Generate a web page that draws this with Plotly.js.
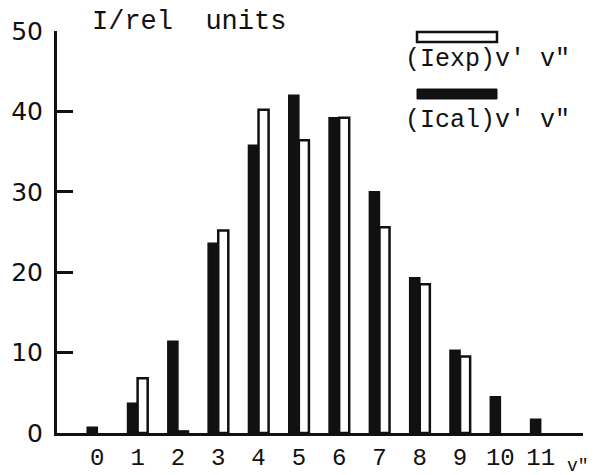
<!DOCTYPE html>
<html>
<head>
<meta charset="utf-8">
<script src="https://cdn.plot.ly/plotly-3.0.1.min.js"></script>
<style>html,body{margin:0;padding:0;background:#fff;}#chart{width:605px;height:475px;}</style>
</head>
<body>
<div id="chart"></div>
<script>
const categories = [0, 1, 2, 3, 4, 5, 6, 7, 8, 9, 10, 11];
const tickLabels = ["0", "1", "2", "3", "4", "5", "6", "7", "8", "9", "10", "11"];
const icalValues = [0.7, 3.7, 11.4, 23.6, 35.8, 42.0, 39.2, 30.0, 19.3, 10.3, 4.5, 1.7];
const iexpValues = [null, 6.8, 0.2, 25.2, 40.2, 36.4, 39.2, 25.6, 18.5, 9.5, null, null];
const yTicks = [0, 10, 20, 30, 40, 50];

const ink = '#111111';
const mono = 'Liberation Mono, Courier New, monospace';

const traces = [
  {
    type: 'bar', x: categories, y: icalValues, name: 'Ical',
    marker: {color: ink, line: {color: ink, width: 1.5}},
    hoverinfo: 'none'
  },
  {
    type: 'bar', x: categories, y: iexpValues, name: 'Iexp',
    marker: {color: '#ffffff', line: {color: ink, width: 2.5}},
    hoverinfo: 'none'
  }
];

const layout = {
  width: 605, height: 475,
  margin: {l: 57, r: 22, t: 31, b: 42},
  paper_bgcolor: '#ffffff', plot_bgcolor: '#ffffff',
  showlegend: false,
  barmode: 'group', bargap: 0.5, bargroupgap: 0,
  xaxis: {
    range: [-1, 12.05], showgrid: false, zeroline: false,
    showline: true, linecolor: ink, linewidth: 3,
    tickmode: 'array', tickvals: categories, ticktext: tickLabels,
    ticks: '', tickfont: {family: mono, size: 24, color: ink},
    ticklabelstandoff: 0
  },
  yaxis: {
    range: [0, 50], showgrid: false, zeroline: false,
    showline: true, linecolor: ink, linewidth: 3,
    tickmode: 'array', tickvals: yTicks, ticktext: yTicks.map(String),
    ticks: 'inside', ticklen: 16, tickwidth: 3, tickcolor: ink,
    tickfont: {family: 'DejaVu Sans, sans-serif', size: 25, color: ink},
    ticklabelstandoff: 6
  },
  shapes: [
    {type: 'rect', xref: 'paper', yref: 'paper', x0: (417-57)/526, x1: (497-57)/526, y0: (433-42)/402, y1: (433-32)/402,
     line: {color: ink, width: 2.5}, fillcolor: '#ffffff'},
    {type: 'rect', xref: 'paper', yref: 'paper', x0: (417-57)/526, x1: (497-57)/526, y0: (433-99)/402, y1: (433-89)/402,
     line: {color: ink, width: 1}, fillcolor: ink}
  ],
  annotations: [
    {xref: 'paper', yref: 'paper', x: (90-57)/526, y: (433-22)/402, xanchor: 'left', yanchor: 'middle',
     text: 'I/rel  units', showarrow: false, font: {family: mono, size: 27, color: ink}},
    {xref: 'paper', yref: 'paper', x: (403-57)/526, y: (433-60)/402, xanchor: 'left', yanchor: 'middle',
     text: '(Iexp)v′ v″', showarrow: false, font: {family: mono, size: 25, color: ink}},
    {xref: 'paper', yref: 'paper', x: (403-57)/526, y: (433-120)/402, xanchor: 'left', yanchor: 'middle',
     text: '(Ical)v′ v″', showarrow: false, font: {family: mono, size: 25, color: ink}},
    {xref: 'paper', yref: 'paper', x: (565-57)/526, y: (433-466)/402, xanchor: 'left', yanchor: 'middle',
     text: 'v″', showarrow: false, font: {family: mono, size: 18, color: ink}}
  ]
};

Plotly.newPlot('chart', traces, layout, {displayModeBar: false, staticPlot: true});
</script>
</body>
</html>
